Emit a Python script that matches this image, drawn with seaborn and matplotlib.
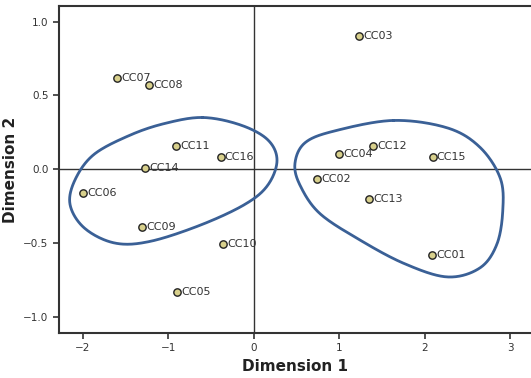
import numpy as np
import pandas as pd
import matplotlib
matplotlib.use('Agg')
import matplotlib.pyplot as plt
import seaborn as sns

# ── Data ──────────────────────────────────────────────
labels = ['CC01', 'CC02', 'CC03', 'CC04', 'CC05', 'CC06', 'CC07', 'CC08',
          'CC09', 'CC10', 'CC11', 'CC12', 'CC13', 'CC14', 'CC15', 'CC16']
dim1 = [2.08, 0.74, 1.23, 1.00, -0.90, -2.00, -1.60, -1.23,
        -1.31, -0.36, -0.91, 1.39, 1.35, -1.27, 2.09, -0.39]
dim2 = [-0.58, -0.07, 0.90, 0.10, -0.83, -0.16, 0.62, 0.57,
        -0.39, -0.51, 0.16, 0.16, -0.20, 0.01, 0.08, 0.08]

# hand-drawn group outlines (data coords)
left_x = [-0.60, -0.16, 0.16, 0.27, 0.16, -0.11, -0.63, -1.22, -1.63, -1.98,
          -2.15, -2.09, -1.87, -1.45, -1.04]
left_y = [0.35, 0.30, 0.20, 0.06, -0.11, -0.24, -0.38, -0.49, -0.50, -0.40,
          -0.24, -0.07, 0.10, 0.23, 0.31]
right_x = [1.63, 2.26, 2.64, 2.88, 2.91, 2.84, 2.64, 2.26, 1.76, 1.24,
           0.77, 0.54, 0.48, 0.60, 0.95]
right_y = [0.33, 0.28, 0.15, -0.06, -0.28, -0.51, -0.67, -0.73, -0.64, -0.48,
           -0.30, -0.11, 0.04, 0.18, 0.26]

df = pd.DataFrame({'label': labels, 'Dimension 1': dim1, 'Dimension 2': dim2})


def closed_spline(xs, ys, n=30):
    # closed Catmull-Rom curve through the outline points
    p = np.column_stack([xs, ys])
    k = len(p)
    out = []
    t = np.linspace(0, 1, n, endpoint=False)[:, None]
    for i in range(k):
        p0, p1, p2, p3 = p[i - 1], p[i], p[(i + 1) % k], p[(i + 2) % k]
        seg = 0.5 * ((2 * p1) + (-p0 + p2) * t
                     + (2 * p0 - 5 * p1 + 4 * p2 - p3) * t ** 2
                     + (-p0 + 3 * p1 - 3 * p2 + p3) * t ** 3)
        out.append(seg)
    out = np.vstack(out)
    return np.vstack([out, out[:1]])


sns.set_style('ticks')
plt.rcParams['font.family'] = ['DejaVu Sans']

fig = plt.figure(figsize=(5.31, 3.78), dpi=100)
ax = fig.add_axes([0.111, 0.119, 0.889, 0.865])

ax.axhline(0, color='#333333', lw=1.0, zorder=1)
ax.axvline(0, color='#333333', lw=1.0, zorder=1)

for xs, ys in [(left_x, left_y), (right_x, right_y)]:
    c = closed_spline(xs, ys)
    ax.plot(c[:, 0], c[:, 1], color='#3a6096', lw=2.0, zorder=2)

sns.scatterplot(data=df, x='Dimension 1', y='Dimension 2', ax=ax,
                color='#d8d08c', edgecolor='#222222', linewidth=1.0,
                s=28, zorder=3, legend=False)

for _, r in df.iterrows():
    ax.annotate(r['label'], (r['Dimension 1'], r['Dimension 2']),
                xytext=(3, 0), textcoords='offset points',
                va='center', ha='left', fontsize=8, color='#333333', zorder=4)

ax.set_xlim(-2.28, 3.24)
ax.set_ylim(-1.11, 1.105)
ax.set_xticks([-2, -1, 0, 1, 2, 3])
ax.set_yticks([-1.0, -0.5, 0.0, 0.5, 1.0])
ax.set_yticklabels(['\u22121.0', '\u22120.5', '0.0', '0.5', '1.0'])
ax.set_xticklabels(['\u22122', '\u22121', '0', '1', '2', '3'])
ax.tick_params(axis='both', labelsize=7.5, colors='#333333', length=4, width=1.2)
ax.set_xlabel('Dimension 1', fontsize=11, fontweight='bold', color='#222222')
ax.set_ylabel('Dimension 2', fontsize=11, fontweight='bold', color='#222222')

for side in ['left', 'bottom', 'top']:
    ax.spines[side].set_linewidth(1.5)
    ax.spines[side].set_color('#333333')
ax.spines['right'].set_visible(False)

fig.savefig('out.png', dpi=100)
